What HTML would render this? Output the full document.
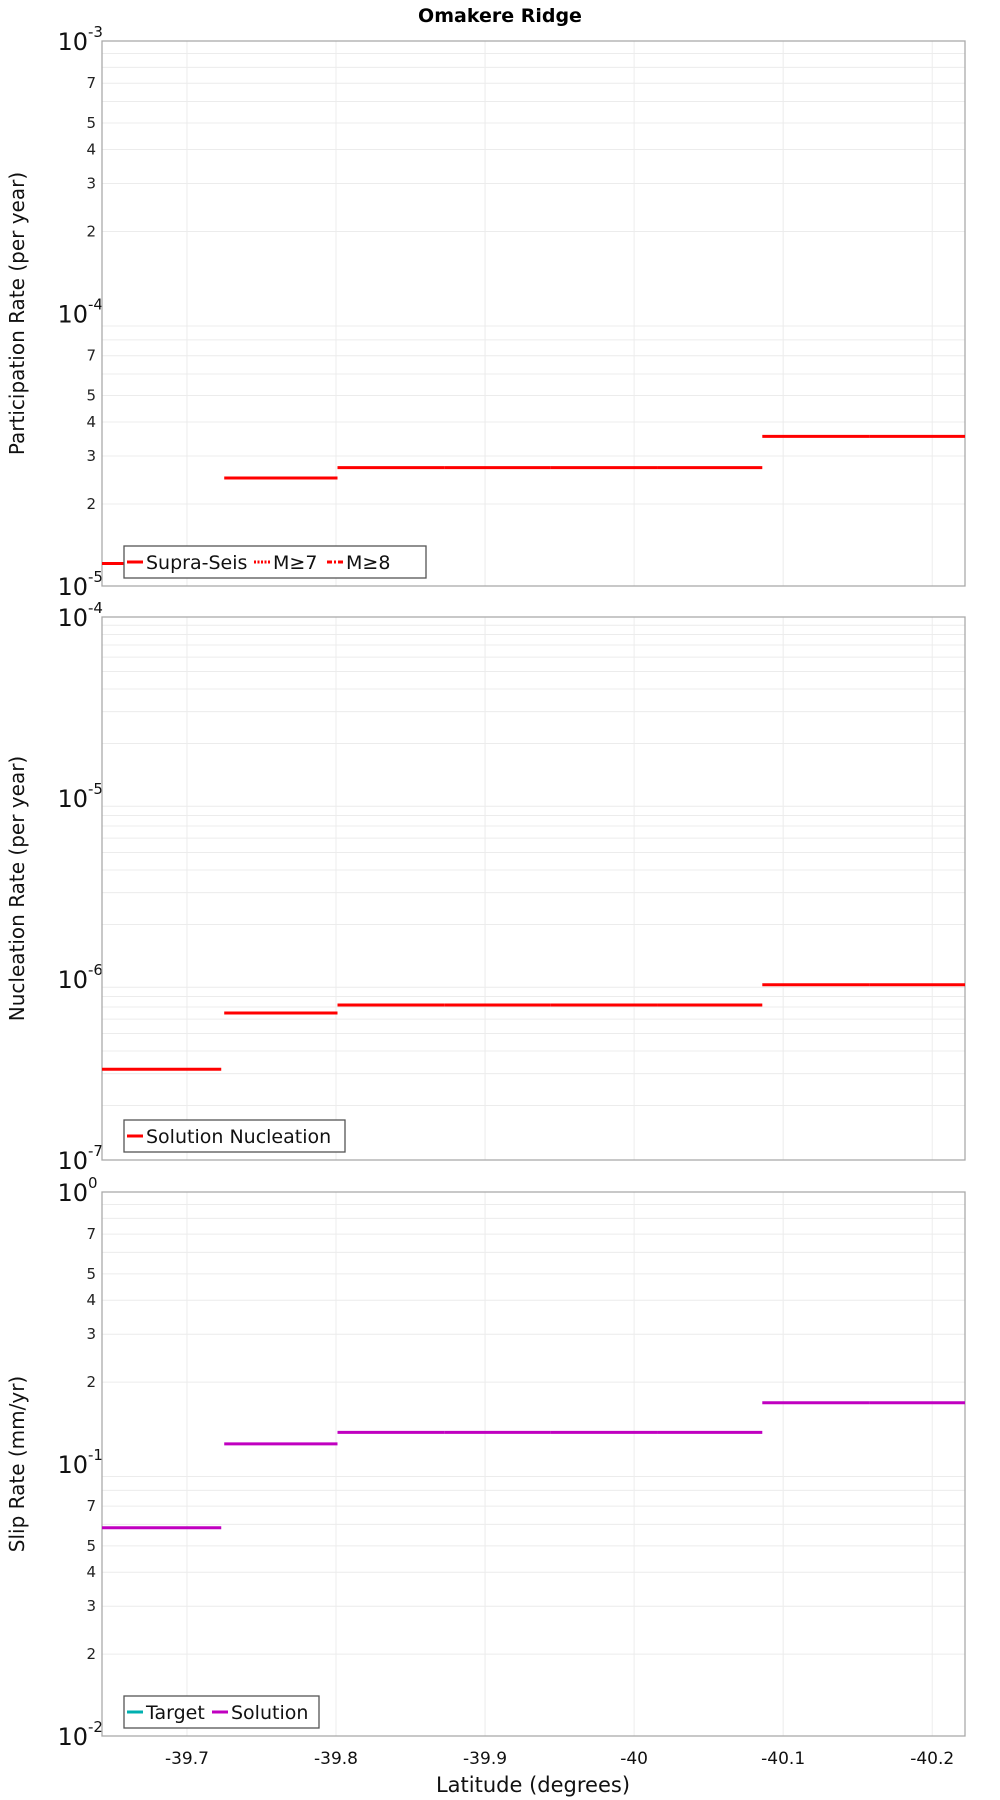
<!DOCTYPE html>
<html><head><meta charset="utf-8"><style>
html,body{margin:0;padding:0;background:#fff}
svg{display:block;font-family:"DejaVu Sans","Liberation Sans",sans-serif}
</style></head><body>
<svg id="c" width="1000" height="1800" viewBox="0 0 1000 1800">
<text x="500" y="22" text-anchor="middle" font-size="19" font-weight="bold">Omakere Ridge</text>
</svg>
<script>
// Shared x data (latitude bin edges)
const binStarts = [-39.63, -39.725, -39.801, -39.873, -39.944, -40.016, -40.086, -40.158];
const binEnds   = [-39.723, -39.801, -39.873, -39.944, -40.016, -40.086, -40.158, -40.23];
const xTicks = [-39.7, -39.8, -39.9, -40, -40.1, -40.2];
const xTickLabels = ["-39.7", "-39.8", "-39.9", "-40", "-40.1", "-40.2"];
// Series values
const participationRates = [1.21e-5, 2.49e-5, 2.72e-5, 2.72e-5, 2.72e-5, 2.72e-5, 3.54e-5, 3.54e-5];
const nucleationRates = [3.17e-7, 6.49e-7, 7.18e-7, 7.18e-7, 7.18e-7, 7.18e-7, 9.3e-7, 9.3e-7];
const slipRates = [0.0583, 0.1186, 0.1307, 0.1307, 0.1307, 0.1307, 0.168, 0.168];

const NS = "http://www.w3.org/2000/svg";
const svg = document.getElementById("c");
const L = 102, R = 965, X0 = -39.643, X1 = -40.222;
function xs(v){ return L + (v - X0) / (X1 - X0) * (R - L); }
function mk(tag, attrs, parent){
  const e = document.createElementNS(NS, tag);
  for (const k in attrs) e.setAttribute(k, attrs[k]);
  (parent || svg).appendChild(e); return e;
}

function panel(cfg){
  const g = mk("g", {});
  
  
  const T = cfg.top, B = cfg.bottom;
  const ys = v => B - (Math.log10(v) - cfg.minExp) / (cfg.maxExp - cfg.minExp) * (B - T);
  // grid
  for (let e = cfg.minExp; e < cfg.maxExp; e++) {
    for (let m = 1; m <= 9; m++) {
      const y = ys(m * Math.pow(10, e));
      if (m > 1) { const gl = mk("line", {x1:L, x2:R, y1:y, y2:y, stroke:"#ececec", "stroke-width":1}, g);
        
         }
      if (cfg.minorLabels && [2,3,4,5,7].includes(m)) {
        const t = mk("text", {x:96, y:y+5, "text-anchor":"end", "font-size":15, fill:"#222"}, g);
        t.textContent = String(m);
        
        
      }
    }
  }
  for (let e = cfg.minExp; e <= cfg.maxExp; e++) {
    const y = ys(Math.pow(10, e));
    const t = mk("text", {x:88, y:y+9, "text-anchor":"end", "font-size":24, fill:"#111"}, g);
    t.textContent = "10";
    
    
    const s = mk("text", {x:88, y:y-4, "font-size":15, fill:"#111"}, g);
    s.textContent = String(e === 0 ? "0" : e);
    
    
  }
  xTicks.forEach(v => {
    const gl = mk("line", {x1:xs(v), x2:xs(v), y1:T, y2:B, stroke:"#ececec", "stroke-width":1}, g);
    
    
  });
  const fr = mk("rect", {x:L, y:T, width:R-L, height:B-T, fill:"none", stroke:"#aaa", "stroke-width":1.3}, g);
  
  
  // axis title
  const cy = (T + B) / 2;
  const at = mk("text", {x:0, y:0, transform:`translate(24,${cy}) rotate(-90)`, "text-anchor":"middle", "font-size":20, fill:"#111"}, g);
  at.textContent = cfg.title;
  
  
  // series
  const clipId = cfg.name + "-clip";
  const cp = mk("clipPath", {id:clipId}, g);
  mk("rect", {x:L, y:T, width:R-L, height:B-T}, cp);
  cfg.values.forEach((v, i) => {
    const ln = mk("line", {x1:xs(binStarts[i]), x2:xs(binEnds[i]), y1:ys(v), y2:ys(v), stroke:cfg.color, "stroke-width":3, "clip-path":`url(#${clipId})`}, g);
    
    
  });
  // legend
  const lg = mk("g", {}, g);
  
  
  const ly = B - 24;
  mk("rect", {x:124, y:ly-16, width:cfg.legendW, height:32, fill:"#fff", stroke:"#555", "stroke-width":1.3}, lg);
  let x = 127;
  cfg.legend.forEach(it => {
    mk("line", {x1:x, x2:x+16, y1:ly, y2:ly, stroke:it.c, "stroke-width":3, "stroke-dasharray":it.d || "none"}, lg);
    const t = mk("text", {x:x+19, y:ly+7, "font-size":19, fill:"#111"}, lg);
    t.textContent = it.t;
    
    
    x += 19 + it.w;
  });
}

panel({name:"participation-panel", top:41, bottom:586, minExp:-5, maxExp:-3, minorLabels:true,
  title:"Participation Rate (per year)", values:participationRates, color:"#ff0000", legendW:302,
  legend:[{t:"Supra-Seis",c:"#ff0000",w:108},{t:"M≥7",c:"#ff0000",d:"2,1.5",w:54},{t:"M≥8",c:"#ff0000",d:"5,2,2,2",w:54}]});
panel({name:"nucleation-panel", top:617, bottom:1160, minExp:-7, maxExp:-4, minorLabels:false,
  title:"Nucleation Rate (per year)", values:nucleationRates, color:"#ff0000", legendW:221,
  legend:[{t:"Solution Nucleation",c:"#ff0000",w:200}]});
panel({name:"slip-rate-panel", top:1192, bottom:1736, minExp:-2, maxExp:0, minorLabels:true,
  title:"Slip Rate (mm/yr)", values:slipRates, color:"#c000c0", legendW:195,
  legend:[{t:"Target",c:"#00b0b0",w:66},{t:"Solution",c:"#c000c0",w:90}]});

xTicks.forEach((v, i) => {
  const t = mk("text", {x:xs(v), y:1764, "text-anchor":"middle", "font-size":17, fill:"#111"});
  t.textContent = xTickLabels[i];
  
  
});
const xt = mk("text", {x:533, y:1792, "text-anchor":"middle", "font-size":21, fill:"#111"});
xt.textContent = "Latitude (degrees)";


</script>
</body></html>
